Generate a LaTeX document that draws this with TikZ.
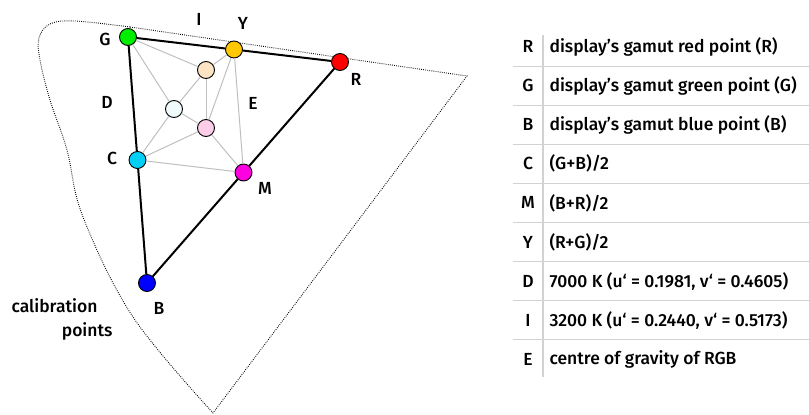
\documentclass[tikz,border=0pt]{standalone}
\usepackage{fontspec}
\setmainfont{Fira Sans}[UprightFont={Fira Sans Medium}]
\usetikzlibrary{positioning, calc}
\definecolor{ptR}{RGB}{255, 0, 0}
\definecolor{ptG}{RGB}{0, 238, 0}
\definecolor{ptB}{RGB}{0, 0, 255}
\definecolor{ptC}{RGB}{0, 208, 245}
\definecolor{ptM}{RGB}{255, 0, 225}
\definecolor{ptY}{RGB}{255, 200, 0}
\definecolor{ptD}{RGB}{240, 250, 250}
\definecolor{ptI}{RGB}{253, 228, 195}
\definecolor{ptE}{RGB}{253, 204, 232}

\begin{document}
\begin{tikzpicture}[x=1pt, y=-1pt,
        dot/.style={circle, draw=black, line width=0.9pt,
            minimum size=17pt, inner sep=0pt},
        lbl/.style={font=\fontsize{17.5}{20}\selectfont},
        gamut/.style={line width=2pt, black},
        mesh/.style={line width=1pt, gray!50},
        locus/.style={line width=0.9pt, dash pattern=on 0.8pt off 1.3pt},
        rowrule/.style={gray!35, line width=1.2pt}
    ]
    \useasboundingbox (0,0) rectangle (809,415);

    % spectral locus
    \draw[locus] plot[smooth, tension=0.6] coordinates
        {(130,27) (75,21) (50,24) (39,38) (40,60) (50,100) (67,150)
         (83,217) (133,317) (213,413)} -- (467,76) -- cycle;

    % display primaries
    \node[dot, fill=ptG] (G) at (128,37) {};
    \node[dot, fill=ptR] (R) at (340,62) {};
    \node[dot, fill=ptB] (B) at (147,283) {};

    % midpoints and calibration points
    \node[dot, fill=ptY] (Y) at ($(R)!0.5!(G)$) {};
    \node[dot, fill=ptC] (C) at ($(G)!0.5!(B)$) {};
    \node[dot, fill=ptM] (M) at ($(B)!0.5!(R)$) {};
    \node[dot, fill=ptD] (D) at (174,109) {};
    \node[dot, fill=ptI] (I) at (206,70) {};
    \node[dot, fill=ptE] (E) at (206,128) {};

    % mesh
    \foreach \a/\b in {G/D, G/I, I/Y, I/D, I/E, Y/E, Y/M, D/C, D/E, C/E, C/M, E/M}
        \draw[mesh] (\a) -- (\b);

    % gamut triangle
    \draw[gamut] (G) -- (Y);
    \draw[gamut] (Y) -- (R);
    \draw[gamut] (R) -- (M);
    \draw[gamut] (M) -- (B);
    \draw[gamut] (B) -- (C);
    \draw[gamut] (C) -- (G);

    % labels
    \node[lbl] (lG) at (105,39) {G};
    \node[lbl] (lI) at (199,19) {I};
    \node[lbl] (lY) at (243,23) {Y};
    \node[lbl] (lR) at (356,79) {R};
    \node[lbl] (lD) at (107,102) {D};
    \node[lbl] (lE) at (253,103) {E};
    \node[lbl] (lC) at (112,158) {C};
    \node[lbl] (lM) at (265,188) {M};
    \node[lbl] (lB) at (159,308) {B};
    \node[lbl, anchor=east] (lcal) at (101,306) {calibration};
    \node[lbl, anchor=east] (lpts) at (116,331) {points};

    % legend table
    \draw[rowrule] (543,35) -- (543,377);
    \foreach \i in {1,...,8}
        \draw[rowrule] (513,{27+39.1*\i}) -- (809,{27+39.1*\i});
    \foreach \sym/\txt [count=\i from 0] in {
            R/{display's gamut red point (R)},
            G/{display's gamut green point (G)},
            B/{display's gamut blue point (B)},
            C/{(G+B)/2},
            M/{(B+R)/2},
            Y/{(R+G)/2},
            D/{7000 K (u‘ = 0.1981, v‘ = 0.4605)},
            I/{3200 K (u‘ = 0.2440, v‘ = 0.5173)},
            E/{centre of gravity of RGB}} {
        \node[lbl] (key\sym) at (528,{46.5+39.1*\i}) {\sym};
        \node[lbl, anchor=west] (txt\sym) at (546,{46.5+39.1*\i}) {\txt};
    }

\end{tikzpicture}
\end{document}
